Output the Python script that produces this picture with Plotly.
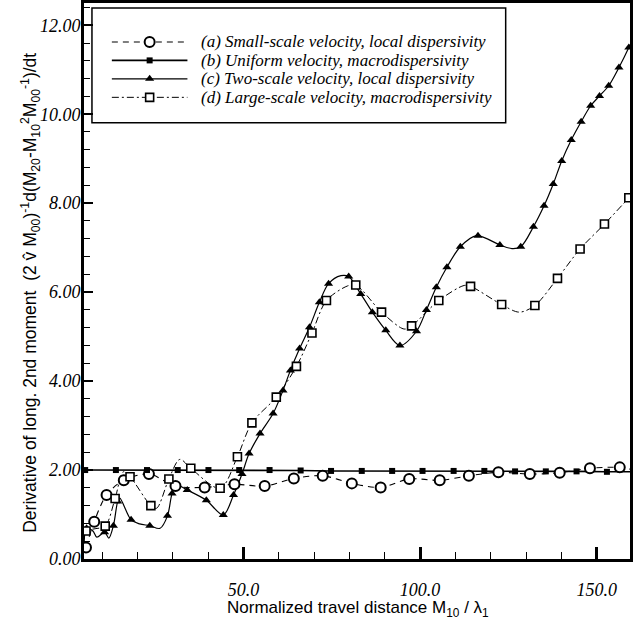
import plotly.graph_objects as go

# ---------------- data ----------------
# (a) Small-scale velocity, local dispersivity  -- open circles, dashed
A_MARK_X = [5.43, 7.77, 11.26, 16.13, 23.25, 30.77, 39.02, 47.47, 56.02, 64.27, 72.44,
            80.69, 88.85, 96.93, 105.57, 113.82, 122.18, 131.08, 139.53, 148.09, 156.53]
A_MARK_Y = [0.26, 0.84, 1.44, 1.77, 1.91, 1.64, 1.61, 1.68, 1.64, 1.81, 1.87,
            1.70, 1.61, 1.80, 1.77, 1.87, 1.95, 1.91, 1.94, 2.04, 2.06]
A_CURVE_X = A_MARK_X + [159.43]
A_CURVE_Y = A_MARK_Y + [2.02]

# (b) Uniform velocity, macrodispersivity -- filled squares, solid
B_MARK_X = [5.2, 13.9, 22.7, 31.4, 40.1, 48.8, 57.4, 66.2, 74.8, 83.5, 92.1, 100.7,
            109.5, 118.2, 126.9, 135.6, 144.3, 152.9]
B_MARK_Y = [2.00, 2.00, 2.00, 2.00, 2.00, 2.00, 2.00, 1.99, 1.98, 1.98, 1.98, 1.98,
            1.98, 1.98, 1.97, 1.97, 1.97, 1.96]
B_CURVE_X = [4.87] + B_MARK_X + [159.43]
B_CURVE_Y = [2.00] + B_MARK_Y + [1.96]

# (c) Two-scale velocity, local dispersivity -- filled triangles, solid
C_MARK_X = [5.6, 10.7, 13.2, 14.4, 18.2, 23.5, 28.5, 29.8, 34.1, 39.5, 44.3, 47.2, 49.6,
            51.6, 54.7, 58.4, 61.2, 63.3, 65.9, 68.7, 71.5, 74.1, 79.8, 83.2, 86.5, 90.3,
            94.3, 99.0, 101.8, 104.6, 107.6, 111.4, 116.4, 122.6, 128.5, 132.1, 135.1,
            137.7, 140.1, 142.8, 145.6, 148.3, 150.8, 153.4, 156.3, 159.1]
C_MARK_Y = [0.69, 0.60, 0.75, 1.29, 0.88, 0.75, 0.97, 1.47, 1.55, 1.32, 0.99, 1.44, 1.91,
            2.37, 2.82, 3.27, 3.79, 4.24, 4.73, 5.21, 5.77, 6.19, 6.35, 5.96, 5.55, 5.14,
            4.80, 5.12, 5.60, 6.11, 6.56, 7.02, 7.27, 7.06, 7.02, 7.47, 7.94,
            8.43, 8.95, 9.42, 9.83, 10.19, 10.41, 10.64, 11.05, 11.50]
C_CURVE_X = [4.9, 5.6, 7.4, 8.5, 10.7, 11.9, 13.2, 14.4, 15.0, 18.2, 20.6, 23.5, 26.4,
             28.5, 29.8, 31.1, 34.1, 39.5, 44.3, 47.2, 49.6, 51.6, 54.7, 58.4, 61.2, 63.3,
             65.9, 68.7, 71.5, 74.1, 77.6, 79.8, 83.2, 86.5, 90.3, 94.3, 99.0, 101.8,
             104.6, 107.6, 111.4, 116.0, 122.6, 126.0, 128.5, 132.1, 135.1, 137.7, 140.1,
             142.8, 145.6, 148.3, 150.8, 153.4, 156.3, 159.1, 159.43]
C_CURVE_Y = [0.35, 0.69, 0.63, 0.49, 0.60, 0.47, 0.75, 1.29, 1.37, 0.88, 0.79, 0.75, 0.69,
             0.97, 1.47, 1.66, 1.55, 1.32, 0.99, 1.44, 1.91, 2.37, 2.82, 3.27, 3.79, 4.24,
             4.73, 5.21, 5.77, 6.19, 6.37, 6.35, 5.96, 5.55, 5.14, 4.80, 5.12, 5.60,
             6.11, 6.56, 7.02, 7.27, 7.06, 6.98, 7.02, 7.47, 7.94, 8.43, 8.95,
             9.42, 9.83, 10.19, 10.41, 10.64, 11.05, 11.50, 11.56]

# (d) Large-scale velocity, macrodispersivity -- open squares, dash-dot
D_MARK_X = [5.43, 10.87, 13.68, 17.9, 23.8, 28.9, 35.1, 43.4, 48.3, 52.4, 59.3, 65.0, 69.4,
            73.5, 81.8, 89.1, 97.6, 105.3, 114.3, 123.1, 132.5, 138.9, 145.3, 152.2, 159.1]
D_MARK_Y = [0.63, 0.74, 1.36, 1.85, 1.20, 1.80, 2.04, 1.59, 2.30, 3.06, 3.64, 4.33, 5.08,
            5.81, 6.16, 5.55, 5.24, 5.81, 6.13, 5.72, 5.70, 6.31, 6.97, 7.53, 8.12]
D_CURVE_X = [4.9, 5.43, 8.0, 10.87, 13.68, 16.0, 17.9, 23.8, 25.4, 28.9, 32.0, 35.1, 43.4,
             48.3, 52.4, 59.3, 65.0, 69.4, 73.5, 79.5, 81.8, 89.1, 95.5, 97.6, 105.3,
             112.5, 114.3, 123.1, 128.1, 132.5, 138.9, 145.3, 152.2, 159.1, 159.43]
D_CURVE_Y = [0.45, 0.63, 0.68, 0.74, 1.36, 1.96, 1.85, 1.20, 1.14, 1.80, 2.24, 2.04, 1.59,
             2.30, 3.06, 3.64, 4.33, 5.08, 5.81, 6.14, 6.16, 5.55, 5.17, 5.24, 5.81,
             6.15, 6.13, 5.72, 5.55, 5.70, 6.31, 6.97, 7.53, 8.12, 8.15]

LEGEND_LABELS = ["(a) Small-scale velocity, local dispersivity",
                 "(b) Uniform velocity, macrodispersivity",
                 "(c) Two-scale velocity, local dispersivity",
                 "(d) Large-scale velocity, macrodispersivity"]

X_TICK_VALS = [50, 100, 150]
X_TICK_LABELS = ["50.0", "100.0", "150.0"]
Y_TICK_VALS = [0, 2, 4, 6, 8, 10, 12]
Y_TICK_LABELS = ["0.00", "2.00", "4.00", "6.00", "8.00", "10.00", "12.00"]

X_RANGE = [4.87, 159.43]
Y_RANGE = [0, 12.5]

# ---------------- styles ----------------
W, H = 633, 622
L, R, T, B = 84, 0, 2, 63
SERIF = "Liberation Serif"
SANS = "Liberation Sans"

styles = [
    dict(dash="6px,5px", lw=1.1, symbol="circle", msize=10, mline=2.0, mcolor="white"),
    dict(dash="solid", lw=1.6, symbol="square", msize=6, mline=0, mcolor="black"),
    dict(dash="solid", lw=1.2, symbol="triangle-up", msize=8, mline=0, mcolor="black"),
    dict(dash="7px,3px,2px,3px", lw=1.0, symbol="square", msize=8, mline=1.6, mcolor="white"),
]
curves = [(A_CURVE_X, A_CURVE_Y), (B_CURVE_X, B_CURVE_Y), (C_CURVE_X, C_CURVE_Y), (D_CURVE_X, D_CURVE_Y)]
marks = [(A_MARK_X, A_MARK_Y), (B_MARK_X, B_MARK_Y), (C_MARK_X, C_MARK_Y), (D_MARK_X, D_MARK_Y)]
shapes_line = ["spline", "linear", "spline", "spline"]

fig = go.Figure()
for (cx, cy), st, shp in zip(curves, styles, shapes_line):
    fig.add_trace(go.Scatter(x=cx, y=cy, mode="lines",
                             line=dict(color="black", width=st["lw"], dash=st["dash"],
                                       shape=shp, smoothing=0.9),
                             showlegend=False, hoverinfo="skip"))
for (mx, my), st in zip(marks, styles):
    fig.add_trace(go.Scatter(x=mx, y=my, mode="markers",
                             marker=dict(symbol=st["symbol"], size=st["msize"], color=st["mcolor"],
                                         line=dict(color="black", width=st["mline"])),
                             showlegend=False, hoverinfo="skip"))

# ---------------- custom legend (pixel coordinates on an overlay axis) ----------------
LEG_BOX = (92, 7, 508, 122)
LEG_ROWS = [41, 59.5, 78, 96.5]
LEG_LINE = (112, 188)
LEG_TEXT_X = 200

shapes = [dict(type="rect", xref="x2", yref="y2", x0=LEG_BOX[0], y0=LEG_BOX[1],
               x1=LEG_BOX[2], y1=LEG_BOX[3], line=dict(color="black", width=1.5),
               fillcolor="white", layer="below")]
fig.add_trace(go.Scatter(x=[LEG_BOX[0], LEG_BOX[2]], y=[LEG_BOX[1], LEG_BOX[3]], mode="markers",
                         marker=dict(size=1, color="rgba(0,0,0,0)"), xaxis="x2", yaxis="y2",
                         showlegend=False, hoverinfo="skip"))
annotations = []
for i, (ry, st, lab) in enumerate(zip(LEG_ROWS, styles, LEGEND_LABELS)):
    fig.add_trace(go.Scatter(x=[LEG_LINE[0], LEG_LINE[1]], y=[ry, ry], mode="lines",
                             line=dict(color="black", width=st["lw"], dash=st["dash"]),
                             xaxis="x2", yaxis="y2", showlegend=False, hoverinfo="skip"))
    fig.add_trace(go.Scatter(x=[(LEG_LINE[0] + LEG_LINE[1]) / 2], y=[ry], mode="markers",
                             marker=dict(symbol=st["symbol"], size=st["msize"], color=st["mcolor"],
                                         line=dict(color="black", width=st["mline"])),
                             xaxis="x2", yaxis="y2", showlegend=False, hoverinfo="skip"))
    annotations.append(dict(xref="x2", yref="y2", x=LEG_TEXT_X, y=ry, text=lab,
                            showarrow=False, xanchor="left", yanchor="middle",
                            font=dict(family=SERIF, size=17, color="black", style="italic")))

# axis titles
pw = W - L - R
ph = H - T - B
annotations.append(dict(xref="paper", yref="paper", x=(360 - L) / pw, y=-(609 - (H - B)) / ph,
                        text="Normalized travel distance M<sub>10</sub> / λ<sub>1</sub>",
                        showarrow=False, xanchor="center", yanchor="middle",
                        font=dict(family=SANS, size=17, color="black")))
annotations.append(dict(xref="paper", yref="paper", x=(30 - L) / pw, y=((H - B) - 292) / ph,
                        text="Derivative of long. 2nd moment\u00a0\u00a0(2 v\u0302 M<sub>00</sub>)<sup>-1</sup>"
                             "d(M<sub>20</sub>-M<sub>10</sub><sup>2</sup>M<sub>00</sub><sup>-1</sup>)/dt",
                        showarrow=False, textangle=-90, xanchor="center", yanchor="middle",
                        font=dict(family=SANS, size=17.5, color="black")))

tickfont = dict(family=SERIF, size=18, color="black", style="italic")
fig.update_layout(
    width=W, height=H, margin=dict(l=L, r=R, t=T, b=B, pad=0),
    paper_bgcolor="white", plot_bgcolor="white", showlegend=False,
    xaxis=dict(range=X_RANGE, showgrid=False, zeroline=False, showline=True, linecolor="black",
               linewidth=3, mirror=True, ticks="inside", tickvals=X_TICK_VALS,
               ticktext=X_TICK_LABELS, ticklen=12, tickwidth=3, tickcolor="black",
               tickfont=tickfont, ticklabelstandoff=12,
               minor=dict(ticks="inside", tick0=0, dtick=10, ticklen=7, tickwidth=1,
                          tickcolor="black", showgrid=False)),
    yaxis=dict(range=Y_RANGE, showgrid=False, zeroline=False, showline=True, linecolor="black",
               linewidth=3, mirror=True, ticks="inside", tickvals=Y_TICK_VALS,
               ticktext=Y_TICK_LABELS, ticklen=9, tickwidth=2.5, tickcolor="black",
               tickfont=tickfont, ticklabelstandoff=-3,
               minor=dict(ticks="inside", tick0=0, dtick=0.4, ticklen=6, tickwidth=1,
                          tickcolor="black", showgrid=False)),
    xaxis2=dict(overlaying="x", range=[L, W - R], visible=False, fixedrange=True),
    yaxis2=dict(overlaying="y", range=[H - B, T], visible=False, fixedrange=True),
    shapes=shapes, annotations=annotations,
)

fig.write_html("out.html", config={"displayModeBar": False, "staticPlot": True},
               post_script="document.body.style.margin='0';document.body.style.overflow='hidden';")
